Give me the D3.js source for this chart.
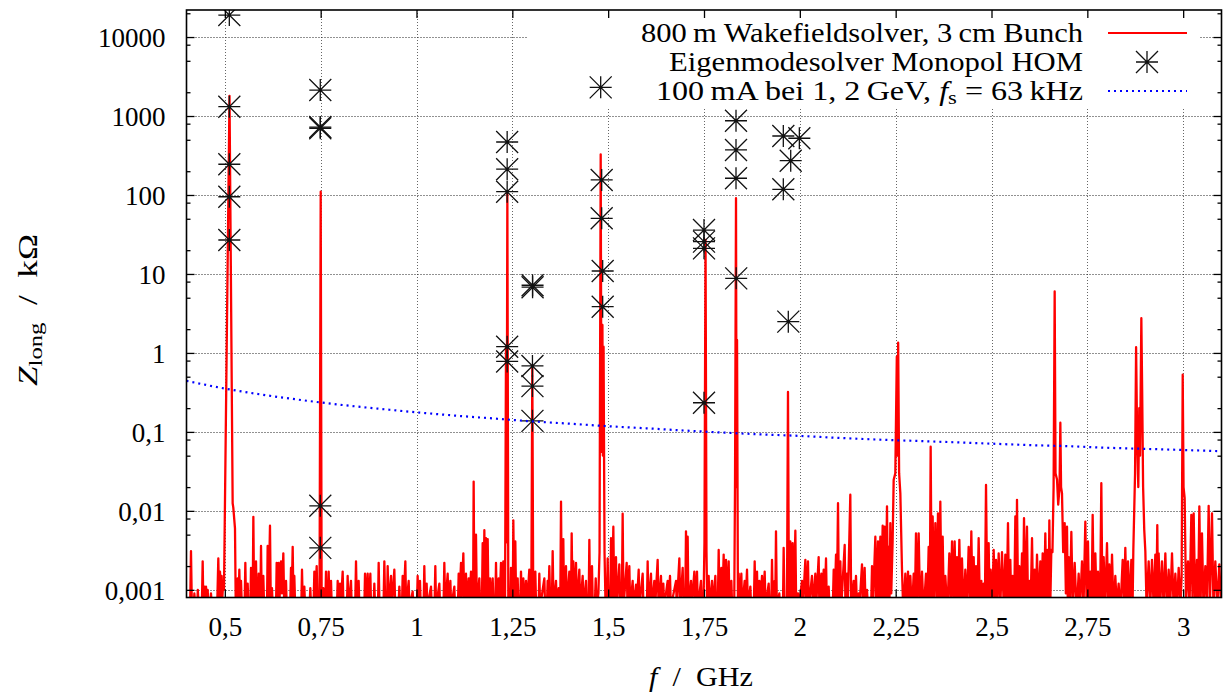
<!DOCTYPE html>
<html><head><meta charset="utf-8">
<script src="https://cdn.jsdelivr.net/npm/d3@7"></script>
<style>
html,body{margin:0;padding:0;background:#fff;}
svg{display:block;}
text{font-family:"Liberation Serif","Times New Roman",serif;fill:#000;}
</style></head><body>
<svg id="chart" width="1225" height="698"></svg>
<script>
// ---------- axis ticks ----------
const xTicks = [0.5,0.75,1,1.25,1.5,1.75,2,2.25,2.5,2.75,3];
const xTickLabels = ["0,5","0,75","1","1,25","1,5","1,75","2","2,25","2,5","2,75","3"];
const yTicks = [0.001,0.01,0.1,1,10,100,1000,10000];
const yTickLabels = ["0,001","0,01","0,1","1","10","100","1000","10000"];
const yMinorTicks = [0.002,0.005,0.008,0.02,0.05,0.08,0.2,0.5,0.8,2,5,8,20,50,80,200,500,800,2000,5000,8000,20000];

// ---------- series 1: wakefield solver spectrum [f GHz, Z kOhm] ----------
const wakeData = [
[0.4000,0.0006],[0.4095,0.0006],[0.4117,0.0031],[0.4140,0.0006],
[0.4190,0.0006],[0.4205,0.0009],[0.4230,0.0006],[0.4280,0.0006],[0.4295,0.0010],[0.4320,0.0006],
[0.4400,0.0006],[0.4422,0.0023],[0.4440,0.0006],[0.4465,0.0011],[0.4485,0.0006],[0.4509,0.0011],[0.4530,0.0006],[0.4552,0.0010],[0.4575,0.0006],
[0.4620,0.0006],[0.4639,0.0009],[0.4660,0.0006],
[0.4800,0.0006],[0.4830,0.0025],[0.4850,0.0007],[0.4874,0.0017],[0.4895,0.0006],[0.4917,0.0015],[0.4935,0.0008],[0.4955,0.0012],[0.4978,0.0010],
[0.5122,1800],[0.5204,0.0125],[0.5221,0.011],[0.5265,0.006],[0.5285,0.0006],
[0.5320,0.0006],[0.5335,0.0014],[0.5355,0.0006],[0.5378,0.0018],[0.5400,0.0006],[0.5422,0.0013],[0.5445,0.0006],
[0.5515,0.0006],[0.5535,0.0022],[0.5555,0.0006],[0.5596,0.0012],[0.5615,0.0006],
[0.5665,0.0006],[0.5683,0.0019],[0.5705,0.0006],[0.5725,0.0006],[0.5744,0.0084],[0.5765,0.0006],
[0.5795,0.0006],[0.5813,0.0023],[0.5835,0.0006],[0.5865,0.0006],[0.5883,0.0016],[0.5905,0.0006],[0.5925,0.0006],[0.5944,0.0036],[0.5965,0.0006],[0.5985,0.0006],[0.6004,0.0015],[0.6025,0.0006],
[0.6100,0.0006],[0.6117,0.0036],[0.6140,0.0007],[0.6178,0.0065],[0.6200,0.0006],[0.6230,0.00105],[0.6250,0.0006],
[0.6335,0.0006],[0.6352,0.0022],[0.6375,0.0008],[0.6404,0.0022],[0.6425,0.0007],[0.6465,0.0023],[0.6490,0.0009],[0.6526,0.0029],[0.6550,0.0006],[0.6596,0.0013],[0.6615,0.0006],
[0.6705,0.0006],[0.6726,0.0019],[0.6745,0.0008],[0.6770,0.0035],[0.6790,0.0007],[0.6813,0.0015],[0.6835,0.0006],
[0.6995,0.0006],[0.7013,0.0018],[0.7035,0.0006],[0.7074,0.0011],[0.7095,0.0006],
[0.7210,0.0006],[0.7230,0.00105],[0.7250,0.0006],[0.7315,0.0006],[0.7335,0.0017],[0.7355,0.0007],[0.7396,0.0020],[0.7420,0.0006],
[0.7470,0.0008],[0.7501,110],[0.7525,0.0009],
[0.7550,0.0006],[0.7570,0.00105],[0.7590,0.0006],[0.7620,0.0006],[0.7639,0.0017],[0.7660,0.0006],[0.7690,0.0006],[0.7709,0.0017],[0.7730,0.0006],[0.7770,0.0013],[0.7790,0.0006],
[0.7925,0.0006],[0.7944,0.0013],[0.7965,0.0006],[0.8004,0.0012],[0.8025,0.0006],[0.8074,0.0017],[0.8095,0.0006],
[0.8185,0.0006],[0.8204,0.0015],[0.8225,0.0006],[0.8291,0.0013],[0.8310,0.0006],
[0.8400,0.0006],[0.8422,0.0023],[0.8445,0.0006],[0.8491,0.0013],[0.8510,0.0006],
[0.8640,0.0006],[0.8657,0.0016],[0.8680,0.0006],[0.8726,0.0016],[0.8750,0.0006],[0.8796,0.0016],[0.8815,0.0006],
[0.8880,0.0006],[0.8900,0.0012],[0.8920,0.0006],[0.8995,0.0006],[0.9013,0.0022],[0.9035,0.0006],
[0.9140,0.0006],[0.9161,0.0023],[0.9185,0.0006],[0.9230,0.0006],[0.9248,0.0020],[0.9270,0.0006],[0.9335,0.0015],[0.9355,0.0006],[0.9422,0.0018],[0.9445,0.0006],
[0.9530,0.0006],[0.9552,0.0011],[0.9575,0.0006],[0.9620,0.0006],[0.9639,0.0015],[0.9660,0.0006],[0.9709,0.0023],[0.9730,0.0006],[0.9796,0.0013],[0.9815,0.0006],[0.9900,0.00095],[0.9920,0.0006],
[1.0010,0.0006],[1.0030,0.0015],[1.0050,0.0006],[1.0091,0.0013],[1.0110,0.0006],
[1.0185,0.0006],[1.0204,0.0020],[1.0225,0.0006],[1.0265,0.0012],[1.0285,0.0006],[1.0378,0.0011],[1.0400,0.0006],
[1.0470,0.0006],[1.0491,0.0020],[1.0510,0.0006],[1.0596,0.0012],[1.0615,0.0006],
[1.0705,0.0006],[1.0726,0.0022],[1.0750,0.0006],[1.0813,0.0016],[1.0835,0.0006],[1.0883,0.0013],[1.0905,0.0006],[1.0987,0.0011],[1.1005,0.0006],
[1.1080,0.0006],[1.1100,0.0016],[1.1120,0.0007],[1.1161,0.0022],[1.1180,0.0008],[1.1222,0.0029],[1.1245,0.0007],[1.1291,0.0016],[1.1310,0.0006],[1.1361,0.0014],[1.1380,0.0007],[1.1422,0.0017],[1.1445,0.0006],
[1.1475,0.0006],[1.1491,0.0235],[1.1510,0.0007],[1.1552,0.0050],[1.1575,0.0006],[1.1639,0.0014],[1.1660,0.0006],
[1.1705,0.0006],[1.1726,0.0039],[1.1748,0.0007],[1.1770,0.0057],[1.1790,0.0007],[1.1813,0.0045],[1.1835,0.0007],[1.1857,0.0044],[1.1880,0.0006],[1.1917,0.0014],[1.1940,0.0006],[1.1987,0.0014],[1.2010,0.0006],
[1.2055,0.0006],[1.2074,0.0022],[1.2095,0.0006],[1.2143,0.0014],[1.2165,0.0006],[1.2204,0.0022],[1.2225,0.0006],[1.2265,0.0023],[1.2285,0.0006],
[1.2310,0.0008],[1.2335,1.2],[1.2350,0.004],[1.2370,105],[1.2395,0.0008],
[1.2445,0.0006],[1.2465,0.0019],[1.2490,0.0006],[1.2510,0.0006],[1.2526,0.0076],[1.2550,0.0007],[1.2578,0.0041],[1.2600,0.0006],[1.2639,0.0014],[1.2660,0.0006],
[1.2705,0.0006],[1.2726,0.0017],[1.2750,0.0006],[1.2787,0.0014],[1.2810,0.0006],[1.2857,0.0013],[1.2880,0.0006],[1.2943,0.0018],[1.2965,0.0006],
[1.2995,0.0008],[1.3021,0.67],[1.3045,0.0008],
[1.3080,0.0006],[1.3100,0.0017],[1.3120,0.0006],[1.3185,0.0006],[1.3204,0.0016],[1.3225,0.0006],[1.3335,0.0014],[1.3355,0.0006],
[1.3400,0.0006],[1.3422,0.0013],[1.3440,0.0007],[1.3465,0.0020],[1.3490,0.0006],[1.3530,0.0006],[1.3552,0.0031],[1.3575,0.0006],[1.3639,0.0013],[1.3660,0.0006],[1.3709,0.00105],[1.3730,0.0006],
[1.3750,0.0006],[1.3770,0.0131],[1.3790,0.0007],[1.3830,0.0044],[1.3850,0.0006],[1.3900,0.0020],[1.3920,0.0006],[1.3987,0.0017],[1.4005,0.0006],
[1.4030,0.0006],[1.4048,0.0052],[1.4070,0.0007],[1.4091,0.0023],[1.4115,0.0006],[1.4161,0.0022],[1.4185,0.0006],[1.4248,0.0018],[1.4270,0.0006],[1.4335,0.0015],[1.4355,0.0006],
[1.4422,0.0013],[1.4445,0.0006],[1.4490,0.0006],[1.4509,0.0043],[1.4530,0.0006],[1.4578,0.0020],[1.4600,0.0006],[1.4650,0.0006],[1.4675,0.0014],[1.4700,0.0006],
[1.4745,0.0009],[1.4775,0.003],[1.4805,327],[1.4825,0.056],[1.4850,2.26],[1.4862,0.05],[1.4880,1.2],[1.4905,0.003],[1.4930,0.0007],
[1.4965,0.0006],[1.4987,0.0025],[1.5010,0.0006],[1.5055,0.0006],[1.5074,0.0045],[1.5100,0.0007],[1.5135,0.0063],[1.5160,0.0006],[1.5204,0.0026],[1.5225,0.0006],[1.5291,0.0021],[1.5315,0.0006],
[1.5355,0.0006],[1.5378,0.0092],[1.5400,0.0006],[1.5483,0.0022],[1.5505,0.0006],[1.5552,0.0020],[1.5575,0.0006],[1.5639,0.0013],[1.5660,0.0006],[1.5726,0.00116],[1.5745,0.0006],[1.5796,0.0018],[1.5815,0.0006],[1.5900,0.0016],[1.5920,0.0006],
[1.6010,0.0006],[1.6030,0.0023],[1.6050,0.0006],[1.6117,0.0016],[1.6140,0.0006],[1.6204,0.0013],[1.6225,0.0006],[1.6291,0.0024],[1.6315,0.0006],[1.6378,0.0015],[1.6400,0.0006],[1.6439,0.0012],[1.6460,0.0006],
[1.6552,0.0013],[1.6575,0.0006],[1.6613,0.0015],[1.6635,0.0006],[1.6770,0.0013],[1.6790,0.0006],[1.6857,0.0025],[1.6880,0.0006],[1.6944,0.0019],[1.6965,0.0006],
[1.7010,0.0006],[1.7030,0.0055],[1.7052,0.0007],[1.7074,0.0047],[1.7095,0.0006],[1.7161,0.0013],[1.7180,0.0006],[1.7248,0.0017],[1.7270,0.0006],[1.7317,0.0017],[1.7340,0.0006],[1.7422,0.0013],[1.7445,0.0006],
[1.7490,0.0008],[1.7512,0.004],[1.7540,27],[1.7565,0.003],[1.7585,0.0006],
[1.7622,0.0015],[1.7645,0.0006],[1.7709,0.0013],[1.7730,0.0006],[1.7796,0.0015],[1.7815,0.0006],[1.7860,0.0006],[1.7883,0.0032],[1.7905,0.0006],[1.7952,0.0019],[1.7975,0.0006],[1.8013,0.0028],[1.8035,0.0006],[1.8074,0.0024],[1.8095,0.0006],[1.8144,0.0023],[1.8165,0.0006],[1.8213,0.0013],[1.8235,0.0006],
[1.8290,0.0008],[1.8310,0.025],[1.8335,91],[1.8350,0.02],[1.8362,1.46],[1.8385,0.0007],
[1.8405,0.0016],[1.8425,0.0006],[1.8474,0.0016],[1.8495,0.0006],[1.8561,0.0013],[1.8580,0.0006],[1.8622,0.0018],[1.8645,0.0006],[1.8709,0.0011],[1.8730,0.0006],
[1.8800,0.0006],[1.8822,0.0023],[1.8845,0.0006],[1.8883,0.0017],[1.8905,0.0006],[1.8944,0.0013],[1.8965,0.0006],[1.9013,0.0015],[1.9035,0.0006],[1.9083,0.0017],[1.9105,0.0006],[1.9187,0.0012],[1.9210,0.0006],
[1.9255,0.0006],[1.9274,0.0024],[1.9295,0.0006],[1.9344,0.0013],[1.9360,0.0007],[1.9378,0.0055],[1.9400,0.0006],[1.9465,0.0009],[1.9485,0.0006],[1.9560,0.0006],[1.9578,0.0034],[1.9600,0.0006],
[1.9665,0.0008],[1.9691,0.32],[1.9715,0.0008],
[1.9752,0.0041],[1.9775,0.0006],[1.9813,0.0039],[1.9840,0.0006],[1.9883,0.0056],[1.9905,0.0006],[1.9952,0.0009],[1.9975,0.0006],
[2.0057,0.0013],[2.0080,0.0006],[2.0144,0.0024],[2.0165,0.0006],[2.0213,0.0023],[2.0235,0.0006],[2.0317,0.0015],[2.0340,0.0006],[2.0404,0.0016],[2.0425,0.0006],[2.0491,0.0026],[2.0510,0.0006],[2.0561,0.0016],[2.0580,0.0006],[2.0622,0.0018],[2.0645,0.0006],[2.0683,0.0025],[2.0705,0.0006],[2.0752,0.0011],[2.0775,0.0006],
[2.0860,0.0006],[2.0883,0.0018],[2.0905,0.0006],[2.0944,0.0028],[2.0965,0.0006],[2.0996,0.0125],[2.1020,0.0006],[2.1057,0.0023],[2.1080,0.0006],[2.1170,0.0037],[2.1190,0.0006],[2.1230,0.0016],[2.1250,0.0006],[2.1317,0.0160],[2.1340,0.0006],
[2.1404,0.0013],[2.1425,0.0006],[2.1465,0.0015],[2.1490,0.0006],[2.1535,0.0009],[2.1555,0.0006],[2.1622,0.0021],[2.1645,0.0006],[2.1691,0.0019],[2.1715,0.0006],[2.1752,0.0010],[2.1775,0.0006],
[2.1860,0.0006],[2.1883,0.0020],[2.1905,0.0006],[2.1970,0.0047],[2.1990,0.0006],[2.2039,0.0041],[2.2060,0.0006],[2.2100,0.0047],[2.2120,0.0007],[2.2161,0.0065],[2.2185,0.0007],[2.2213,0.0063],[2.2240,0.0007],[2.2274,0.0114],[2.2295,0.0008],[2.2317,0.0035],[2.2340,0.0008],[2.2361,0.0070],[2.2385,0.0009],[2.2420,0.004],
[2.2448,0.0247],[2.2491,0.030],[2.2530,0.9],[2.2545,0.05],[2.2565,1.35],[2.2590,0.03],[2.2622,0.0167],[2.2665,0.0018],
[2.2700,0.0005],[2.2752,0.0016],[2.2790,0.0005],[2.2822,0.0017],[2.2850,0.0006],[2.2883,0.0015],[2.2925,0.0005],[2.2970,0.0016],[2.3000,0.0006],[2.3030,0.0052],[2.3065,0.0006],[2.3100,0.0052],[2.3140,0.0005],[2.3187,0.0017],[2.3230,0.0005],[2.3291,0.0016],[2.3325,0.0006],[2.3361,0.0035],[2.3390,0.0007],[2.3413,0.065],[2.3440,0.0007],[2.3465,0.0085],[2.3500,0.0007],[2.3535,0.0070],[2.3570,0.0007],[2.3604,0.0093],[2.3635,0.0006],[2.3665,0.0131],[2.3695,0.0007],[2.3726,0.0047],[2.3760,0.0005],[2.3796,0.0015],[2.3850,0.0005],
[2.3900,0.0029],[2.3935,0.0006],[2.3970,0.0041],[2.4005,0.0007],[2.4039,0.0041],[2.4070,0.0006],[2.4100,0.0026],[2.4130,0.0006],[2.4161,0.0043],[2.4195,0.0006],[2.4230,0.0025],[2.4275,0.0005],[2.4317,0.0018],[2.4360,0.0006],[2.4404,0.0035],[2.4440,0.0006],[2.4474,0.0055],[2.4505,0.0006],[2.4535,0.0026],[2.4565,0.0006],[2.4596,0.0020],[2.4630,0.0006],[2.4665,0.0045],[2.4700,0.0005],[2.4735,0.0013],[2.4765,0.0005],[2.4796,0.0012],[2.4825,0.0005],[2.4857,0.0213],[2.4890,0.0006],[2.4926,0.0039],[2.4950,0.0006],[2.4978,0.0018],[2.5015,0.0006],[2.5057,0.0032],[2.5090,0.0006],[2.5118,0.0024],[2.5150,0.0006],[2.5187,0.0029],[2.5230,0.0006],[2.5274,0.0030],[2.5320,0.0006],[2.5361,0.0028],[2.5395,0.0006],[2.5430,0.0070],[2.5460,0.0006],[2.5491,0.0024],[2.5520,0.0005],[2.5552,0.0015],[2.5590,0.0005],[2.5622,0.0085],[2.5645,0.0007],[2.5665,0.0138],[2.5695,0.0006],[2.5726,0.0020],[2.5760,0.0006],[2.5796,0.0029],[2.5822,0.0007],[2.5848,0.0081],[2.5885,0.0006],[2.5926,0.0063],[2.5955,0.0005],[2.5987,0.0013],[2.6020,0.0006],[2.6057,0.0045],[2.6090,0.0005],[2.6126,0.0018],[2.6155,0.0006],[2.6187,0.0028],[2.6230,0.0006],[2.6274,0.0023],[2.6305,0.0006],[2.6335,0.0029],[2.6370,0.0006],[2.6404,0.0052],[2.6435,0.0006],[2.6465,0.0032],[2.6490,0.0007],[2.6509,0.0076],[2.6535,0.0007],[2.6561,0.0032],
[2.6590,0.003],[2.6620,0.02],[2.6648,6.0],[2.6670,0.03],[2.6709,0.025],[2.6740,0.012],[2.6775,0.02],[2.6796,0.131],[2.6815,0.02],[2.6839,0.0167],[2.6870,0.003],[2.6909,0.0070],[2.6940,0.0009],[2.6970,0.0063],[2.6990,0.0007],
[2.7013,0.0026],[2.7045,0.0006],[2.7083,0.0054],[2.7120,0.0006],[2.7170,0.0022],[2.7220,0.0005],[2.7274,0.0016],[2.7310,0.0006],[2.7361,0.0023],[2.7400,0.0006],[2.7448,0.0073],[2.7480,0.0007],[2.7517,0.0041],[2.7545,0.0006],[2.7578,0.0017],[2.7610,0.0006],[2.7639,0.0089],[2.7670,0.0006],[2.7709,0.0029],[2.7745,0.0006],[2.7778,0.0017],[2.7830,0.0005],[2.7865,0.0224],[2.7895,0.0006],[2.7926,0.0026],[2.7965,0.0006],[2.8013,0.0039],[2.8045,0.0006],[2.8074,0.0021],[2.8110,0.0006],[2.8144,0.0028],[2.8185,0.0005],[2.8230,0.0015],[2.8270,0.0006],[2.8317,0.0012],[2.8360,0.0005],[2.8422,0.0024],[2.8455,0.0006],[2.8491,0.0034],[2.8525,0.0006],[2.8561,0.0023],[2.8600,0.0006],[2.8648,0.0024],[2.8680,0.0006],
[2.8700,0.0032],[2.8745,0.03],[2.8772,1.18],[2.8800,0.08],[2.8830,0.02],[2.8855,0.2],[2.8875,0.05],[2.8909,2.75],[2.8930,0.35],[2.8955,0.02],[2.8985,0.0057],[2.9013,0.0031],
[2.9045,0.0006],[2.9100,0.0023],[2.9140,0.0006],[2.9187,0.0024],[2.9230,0.0006],[2.9274,0.0028],[2.9300,0.0007],[2.9325,0.0066],[2.9345,0.0006],[2.9361,0.0029],[2.9400,0.0006],[2.9448,0.0023],[2.9490,0.0006],[2.9535,0.0029],[2.9575,0.0006],[2.9622,0.0018],[2.9660,0.0006],[2.9709,0.0029],[2.9750,0.0006],[2.9796,0.0016],[2.9840,0.0006],[2.9883,0.0019],[2.9930,0.0006],[2.9960,0.0015],
[2.9988,0.53],[3.0010,0.02],[3.0039,0.0145],[3.0075,0.0007],[3.0126,0.0023],[3.0165,0.0006],[3.0213,0.0089],[3.0245,0.0007],[3.0274,0.0093],[3.0315,0.0006],[3.0361,0.0024],[3.0390,0.0007],[3.0422,0.0114],[3.0455,0.0007],[3.0491,0.0052],[3.0530,0.0006],[3.0578,0.0020],[3.0620,0.0006],[3.0665,0.0116],[3.0700,0.0007],[3.0752,0.0093],[3.0790,0.0006],[3.0839,0.0023],[3.0890,0.0006],[3.0943,0.0021],[3.0990,0.0006],[3.1000,0.0012]
];

// ---------- series 2: eigenmode solver monopole HOMs ----------
const homF = [0.5117,0.5117,0.5117,0.5117,0.5117,
              0.7490,0.7490,0.7490,0.7490,0.7490,
              1.2365,1.2365,1.2365,1.2365,1.2365,
              1.3028,1.3028,1.3025,1.3025,1.3025,
              1.4805,1.4831,1.4831,1.4857,1.4857,
              1.7500,1.7500,1.7500,1.7500,
              1.8335,1.8335,1.8335,1.8340,
              1.9569,1.9987,1.9762,1.9569,1.9699];
const homZ = [18970,1312,245,95,26.9,
              2133,700,725,0.0116,0.0034,
              469,212,110,1.2,0.78,
              6.8,7.2,0.684,0.38,0.138,
              2306,155,50.7,10.9,3.85,
              36,25.7,21.1,0.234,
              871,372,163,8.8,
              558,523,272,118,2.49];

// ---------- series 3: threshold 100 mA @ 1.2 GeV, fs = 63 kHz ----------
const threshF = [0.4,0.5,0.6,0.7,0.8,0.9,1.0,1.1,1.2,1.3,1.4,1.5,1.6,1.7,1.8,1.9,2.0,2.1,2.2,2.3,2.4,2.5,2.6,2.7,2.8,2.9,3.0,3.1];
const threshZ = [0.443,0.354,0.295,0.253,0.221,0.197,0.177,0.161,0.148,0.136,0.127,0.118,0.111,0.104,0.098,0.093,0.089,0.084,0.080,0.077,0.074,0.071,0.068,0.066,0.063,0.061,0.059,0.057];

// ---------- drawing ----------
const FONT = '"Liberation Serif","Times New Roman",serif';
const FS = 27;
const svg = d3.select("#chart");
const L = 186.5, R = 1221.5, T = 10, B = 597.5;
const x = d3.scaleLinear().domain([0.4, 3.1]).range([L, R]);
const y = d3.scaleLog().domain([0.0008, 22000]).range([B, T]);

// grid
const grid = svg.append("g");
grid.selectAll("line.vg").data(xTicks).join("line").attr("class","vg")
  .attr("x1", d => Math.round(x(d)) + 0.5).attr("x2", d => Math.round(x(d)) + 0.5)
  .attr("y1", T).attr("y2", B)
  .attr("stroke", "#666").attr("stroke-width", 1).attr("stroke-dasharray", "1,2");
grid.selectAll("line.hg").data(yTicks).join("line").attr("class","hg")
  .attr("x1", L).attr("x2", R)
  .attr("y1", d => Math.round(y(d)) + 0.5).attr("y2", d => Math.round(y(d)) + 0.5)
  .attr("stroke", "#222").attr("stroke-width", 1).attr("stroke-dasharray", "1,2");

// opaque key background
svg.append("rect").attr("x", 527).attr("y", T + 1).attr("width", 673).attr("height", 97).attr("fill", "#fff");

// clip
svg.append("clipPath").attr("id", "clip").append("rect")
  .attr("x", L).attr("y", T).attr("width", R - L).attr("height", B - T);

// red spectrum
const wakeLine = d3.line().x(d => x(d[0])).y(d => y(d[1]));
svg.append("path").datum(wakeData).attr("d", wakeLine)
  .attr("fill", "none").attr("stroke", "#ff0000").attr("stroke-width", 2.3)
  .attr("stroke-linejoin", "round").attr("clip-path", "url(#clip)");

// HOM stars
const starPath = "M-11,0H11M0,-11V11M-11,-11L11,11M-11,11L11,-11";
const homData = homF.map((f, i) => [f, homZ[i]]);
svg.append("g").attr("clip-path", "url(#clip)")
  .selectAll("path").data(homData).join("path")
  .attr("transform", d => `translate(${x(d[0])},${y(d[1])})`)
  .attr("d", starPath).attr("fill", "none").attr("stroke", "#111").attr("stroke-width", 1.3);

// blue threshold
const threshData = threshF.map((f, i) => [f, threshZ[i]]);
svg.append("path").datum(threshData)
  .attr("d", d3.line().x(d => x(d[0])).y(d => y(d[1])).curve(d3.curveMonotoneX))
  .attr("fill", "none").attr("stroke", "#0000ff").attr("stroke-width", 2.2)
  .attr("stroke-dasharray", "2,4").attr("clip-path", "url(#clip)");

// axes (inward ticks, mirrored)
function styleAxis(g) {
  g.select(".domain").remove();
  g.attr("font-family", FONT).attr("font-size", FS);
  g.selectAll("line").attr("stroke", "#000").attr("stroke-width", 1.3);
  g.selectAll("text").attr("fill", "#000");
}
svg.append("g").attr("transform", `translate(0,${B})`)
  .call(d3.axisBottom(x).tickValues(xTicks).tickFormat((d, i) => xTickLabels[i]).tickSizeInner(-8).tickSizeOuter(0).tickPadding(19))
  .call(styleAxis);
svg.append("g").attr("transform", `translate(0,${T})`)
  .call(d3.axisTop(x).tickValues(xTicks).tickFormat("").tickSizeInner(-8).tickSizeOuter(0))
  .call(styleAxis);
svg.append("g").attr("transform", `translate(${L},0)`)
  .call(d3.axisLeft(y).tickValues(yTicks).tickFormat((d, i) => yTickLabels[i]).tickSizeInner(-8).tickSizeOuter(0).tickPadding(21))
  .call(styleAxis)
  .call(g => g.selectAll("text").attr("dy", "0.36em"));
svg.append("g").attr("transform", `translate(${R},0)`)
  .call(d3.axisRight(y).tickValues(yTicks).tickFormat("").tickSizeInner(-8).tickSizeOuter(0))
  .call(styleAxis);
svg.append("g").attr("transform", `translate(${L},0)`)
  .call(d3.axisLeft(y).tickValues(yMinorTicks).tickFormat("").tickSizeInner(-4).tickSizeOuter(0))
  .call(styleAxis);
svg.append("g").attr("transform", `translate(${R},0)`)
  .call(d3.axisRight(y).tickValues(yMinorTicks).tickFormat("").tickSizeInner(-4).tickSizeOuter(0))
  .call(styleAxis);

// frame
svg.append("rect").attr("x", L).attr("y", T).attr("width", R - L).attr("height", B - T)
  .attr("fill", "none").attr("stroke", "#000").attr("stroke-width", 1.6);

// key
const keyX = 1083;
svg.append("text").attr("x", keyX).attr("y", 42).attr("text-anchor", "end")
  .attr("font-family", FONT).attr("font-size", FS)
  .attr("textLength", 442).attr("lengthAdjust", "spacingAndGlyphs")
  .text("800\u2009m Wakefieldsolver, 3\u2009cm Bunch");
svg.append("line").attr("x1", 1108).attr("x2", 1187).attr("y1", 33).attr("y2", 33)
  .attr("stroke", "#ff0000").attr("stroke-width", 2);
svg.append("text").attr("x", keyX).attr("y", 71).attr("text-anchor", "end")
  .attr("font-family", FONT).attr("font-size", FS)
  .attr("textLength", 414).attr("lengthAdjust", "spacingAndGlyphs")
  .text("Eigenmodesolver Monopol HOM");
svg.append("path").attr("transform", "translate(1147,62)").attr("d", starPath)
  .attr("fill", "none").attr("stroke", "#111").attr("stroke-width", 1.3);
const k3 = svg.append("text").attr("x", keyX).attr("y", 100).attr("text-anchor", "end")
  .attr("font-family", FONT).attr("font-size", FS)
  .attr("textLength", 427).attr("lengthAdjust", "spacingAndGlyphs");
k3.append("tspan").text("100\u2009mA bei 1, 2\u2009GeV, ");
k3.append("tspan").attr("font-style", "italic").text("f");
k3.append("tspan").attr("font-size", 19).attr("dy", 4).text("s");
k3.append("tspan").attr("dy", -4).text(" = 63\u2009kHz");
svg.append("line").attr("x1", 1108).attr("x2", 1187).attr("y1", 91).attr("y2", 91)
  .attr("stroke", "#0000ff").attr("stroke-width", 2.2).attr("stroke-dasharray", "2,4");

// axis titles
const xt = svg.append("text").attr("x", 701).attr("y", 686).attr("text-anchor", "middle")
  .attr("font-family", FONT).attr("font-size", FS)
  .attr("textLength", 104).attr("lengthAdjust", "spacingAndGlyphs");
xt.append("tspan").attr("font-style", "italic").text("f");
xt.append("tspan").text("\u00a0\u00a0/\u00a0\u00a0GHz");

const yt = svg.append("text").attr("transform", "translate(37,310) rotate(-90)").attr("text-anchor", "middle")
  .attr("font-family", FONT).attr("font-size", FS)
  .attr("textLength", 152).attr("lengthAdjust", "spacingAndGlyphs");
yt.append("tspan").attr("font-style", "italic").text("Z");
yt.append("tspan").attr("font-size", 19).attr("dy", 5).text("long");
yt.append("tspan").attr("dy", -5).text("\u00a0\u00a0/\u00a0\u00a0k\u03A9");
</script>
</body></html>
